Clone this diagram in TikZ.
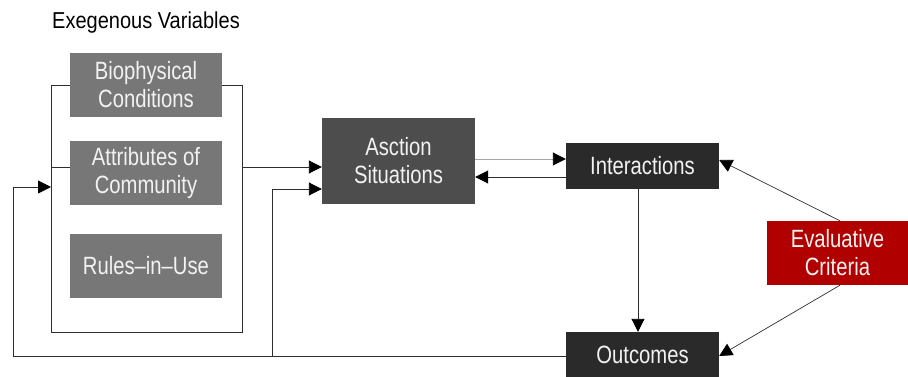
\documentclass[tikz,border=0pt]{standalone}
\usepackage{fontspec}
\setmainfont{Liberation Sans}
\newfontfamily\boxfont{Liberation Sans}[FakeStretch=0.81]
\newfontfamily\titlefont{Liberation Sans}[FakeStretch=0.87]
\usetikzlibrary{arrows.meta,positioning}
\definecolor{lightbox}{HTML}{777777}
\definecolor{midbox}{HTML}{4D4D4D}
\definecolor{darkbox}{HTML}{2A2A2A}
\definecolor{redbox}{HTML}{B00000}
\definecolor{linecol}{HTML}{2E2E2E}
\definecolor{txtcol}{HTML}{F2F2F2}
\tikzset{
  box/.style={rectangle, inner sep=0pt, text=txtcol, align=center,
    font=\boxfont\fontsize{25}{28}\selectfont},
  conn/.style={draw=linecol, line width=0.9pt},
  arr/.style={conn, -{Triangle[length=13pt,width=13pt,color=black,fill=black]}},
}
\begin{document}
\begin{tikzpicture}[x=1pt,y=-1pt]
\useasboundingbox (0,0) rectangle (908,377);
% title
\node[anchor=base west, inner sep=0pt, font=\titlefont\fontsize{23}{26}\selectfont] (title) at (52,29) {Exegenous Variables};
% exogenous boxes
\node[box, fill=lightbox, minimum width=152pt, minimum height=64pt] (bio) at (146,85) {Biophysical\\Conditions};
\node[box, fill=lightbox, minimum width=152pt, minimum height=64pt] (attr) at (146,173) {Attributes of\\Community};
\node[box, fill=lightbox, minimum width=152pt, minimum height=64pt] (rules) at (146,266) {Rules–in–Use};
% main boxes
\node[box, fill=midbox, minimum width=153pt, minimum height=86pt] (act) at (398.5,161) {Asction\\Situations};
\node[box, fill=darkbox, minimum width=153pt, minimum height=46pt] (inter) at (642.5,166) {Interactions};
\node[box, fill=darkbox, minimum width=153pt, minimum height=45pt] (out) at (642.5,354.5) {Outcomes};
\node[box, fill=redbox, minimum width=141pt, minimum height=64pt] (eval) at (837.5,253) {Evaluative\\Criteria};
% bracket coordinates
\coordinate (btl) at (51,85);
\coordinate (bbl) at (51,332);
\coordinate (bbr) at (242,332);
\coordinate (btr) at (242,85);
\coordinate (bml) at (51,167);
\coordinate (bmr) at (242,167);
\coordinate (fbl) at (13,356);
\coordinate (fbm) at (272,356);
% bracket
\draw[conn] (bio.west) -- (btl) -- (bbl) -- (bbr) -- (btr) -- (bio.east);
\draw[conn] (attr.west |- bml) -- (bml);
\draw[arr] (bmr) -- (act.west |- bmr);
% feedback from outcomes
\draw[conn] (out.west |- fbl) -- (fbl);
\draw[arr] (fbl) -- (13,187) -- (51,187);
\draw[arr] (fbm) -- (272,189) -- (act.west |- 0,189);
% action <-> interactions
\draw[arr, draw=gray!70] (act.east |- 0,159) -- (inter.west |- 0,159);
\draw[arr] (inter.west |- 0,177) -- (act.east |- 0,177);
% interactions -> outcomes
\draw[arr] ([xshift=-4.5pt]inter.south) -- ([xshift=-4.5pt]out.north);
% evaluative criteria
\draw[arr, line width=0.7pt] ([xshift=2.5pt]eval.north) -- ([yshift=6pt]inter.east);
\draw[arr, line width=0.7pt] ([xshift=2.5pt]eval.south) -- ([yshift=-1.5pt]out.east);
\end{tikzpicture}
\end{document}
